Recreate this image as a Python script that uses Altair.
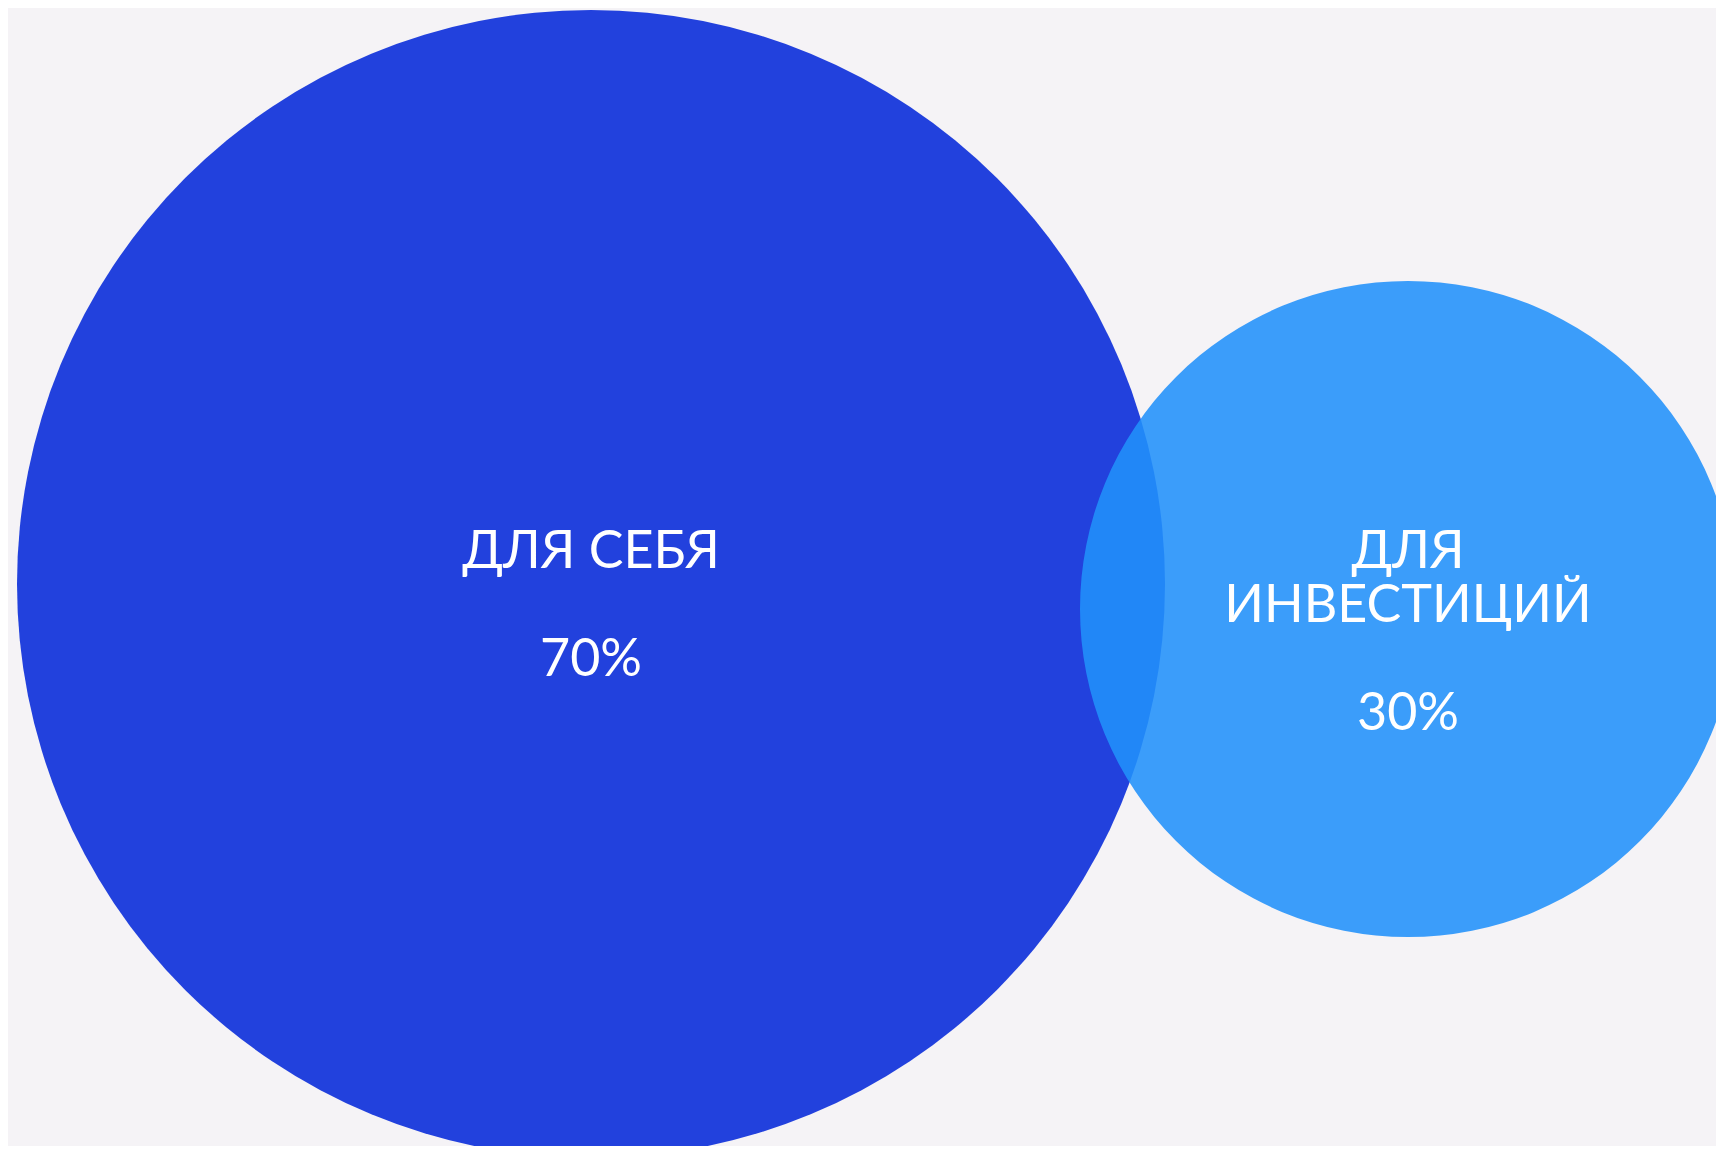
import altair as alt
import pandas as pd

# ---- data ----
categories = ["Для себя", "Для инвестиций"]
label_lines = [["ДЛЯ СЕБЯ"], ["ДЛЯ", "ИНВЕСТИЦИЙ"]]
values = [70, 30]

# ---- layout (chart pixel space) ----
W, H = 1708, 1138
centers_x = [583, 1400]
centers_y = [576, 601]
radii = [574, 328]
colors = ["#2241dd", "#2191fb"]
opacities = [1.0, 0.88]
text_top = 560
line_h = 54

circles = pd.DataFrame({
    "cat": categories,
    "value": values,
    "cx": centers_x,
    "cy": centers_y,
    # Vega circle symbol: diameter = sqrt(size)
    "size": [(2 * r) ** 2 for r in radii],
    "color": colors,
    "op": opacities,
    "order": [0, 1],
})

rows = []
for i, cat in enumerate(categories):
    lines = label_lines[i] + ["", f"{values[i]}%"]
    for j, t in enumerate(lines):
        if t:
            rows.append({"cat": cat, "text": t, "x": centers_x[i], "y": text_top + j * line_h})
texts = pd.DataFrame(rows)

xs = alt.Scale(domain=[0, W], nice=False, zero=False)
ys = alt.Scale(domain=[H, 0], nice=False, zero=False)

circ = alt.Chart(circles).mark_circle(clip=True, strokeWidth=0).encode(
    x=alt.X("cx:Q", scale=xs, axis=None),
    y=alt.Y("cy:Q", scale=ys, axis=None),
    size=alt.Size("size:Q", scale=None, legend=None),
    color=alt.Color("color:N", scale=None, legend=None),
    opacity=alt.Opacity("op:Q", scale=None, legend=None),
    order=alt.Order("order:Q"),
)

txt = alt.Chart(texts).mark_text(
    font="Lato", fontWeight=400, fontSize=52, color="white",
    align="center", baseline="alphabetic", clip=True,
).encode(
    x=alt.X("x:Q", scale=xs, axis=None),
    y=alt.Y("y:Q", scale=ys, axis=None),
    text="text:N",
)

chart = alt.layer(circ, txt).properties(
    width=W, height=H, padding=0, background="#f5f3f6"
).configure_view(stroke=None)

chart.save("out.html", embed_options={"renderer": "svg", "actions": False})
